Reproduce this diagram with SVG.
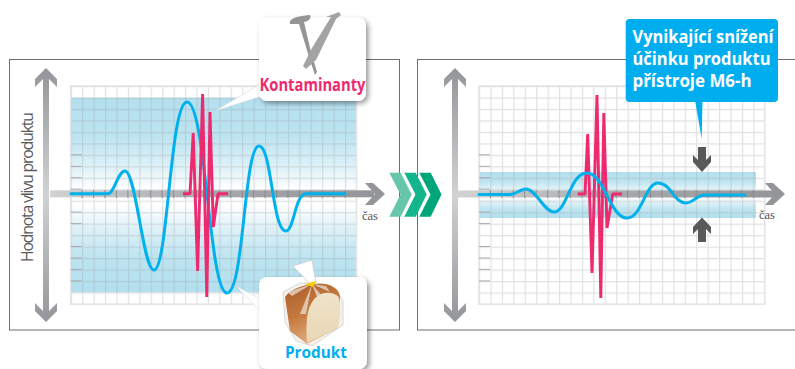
<svg xmlns="http://www.w3.org/2000/svg" width="795" height="369" viewBox="0 0 795 369">
<style>
.frame{fill:#fff;stroke:#6d6e70;stroke-width:1}
.wave{fill:none;stroke:#00b1ec;stroke-width:3;stroke-linecap:round;stroke-linejoin:round}
.spike{fill:none;stroke:#ee2a6f;stroke-width:2.9;stroke-linejoin:bevel}
.cas{font-family:"Liberation Serif",serif;font-size:12.5px;fill:#555}
.bold{font-family:"Open Sans","Noto Sans",sans-serif;font-weight:700}
</style>
<defs>
<pattern id="cells" patternUnits="userSpaceOnUse" width="11.43" height="11.47">
<path d="M.6 0V11.47M0 .6H11.43" fill="none" stroke="#9a9ea0" stroke-opacity=".3" stroke-width="1.2"/>
</pattern>
<linearGradient id="band" x1="0" y1="0" x2="0" y2="1">
<stop offset="0" stop-color="#b3dfee"/><stop offset=".2" stop-color="#bde4f1"/><stop offset=".36" stop-color="#dff2f8"/><stop offset=".47" stop-color="#fff"/><stop offset=".55" stop-color="#fff"/><stop offset=".68" stop-color="#dcf0f7"/><stop offset=".82" stop-color="#bde4f1"/><stop offset="1" stop-color="#b3dfee"/>
</linearGradient>
<linearGradient id="vaxis" gradientUnits="userSpaceOnUse" x1="0" y1="68" x2="0" y2="322">
<stop offset="0" stop-color="#939598"/><stop offset=".5" stop-color="#d1d2d4"/><stop offset="1" stop-color="#939598"/>
</linearGradient>
<linearGradient id="haxis" x1="0" y1="0" x2="1" y2="0">
<stop offset="0" stop-color="#d1d2d4"/><stop offset=".5" stop-color="#a7a9ac"/><stop offset="1" stop-color="#939598"/>
</linearGradient>
<linearGradient id="crust" x1="0" y1="0" x2="0.4" y2="1">
<stop offset="0" stop-color="#a95c28"/><stop offset=".55" stop-color="#c67a40"/><stop offset="1" stop-color="#e0b083"/>
</linearGradient>
<linearGradient id="face" x1="0" y1="0" x2="0" y2="1">
<stop offset="0" stop-color="#f0e3c9"/><stop offset="1" stop-color="#e9d7b4"/>
</linearGradient>
<filter id="shadow" x="-15%" y="-15%" width="135%" height="135%">
<feDropShadow dx="2.5" dy="2.5" stdDeviation="2.5" flood-color="#000" flood-opacity=".4"/>
</filter>
<filter id="soft"><feGaussianBlur stdDeviation=".6"/></filter>
<g id="grid">
<rect width="285.8" height="218.2" fill="url(#cells)"/>
<rect width="285.8" height="218.2" fill="none" stroke="#e3e4e5" stroke-width="1.6"/>
<path d="M0 68.8H11M0 80.3H11M0 91.7H11M0 103.2H11M0 126.1H11M0 137.6H11M0 160.5H11M0 172H11M0 183.4H11M0 194.9H11" fill="none" stroke="#a9abae" stroke-width="1"/>
</g>
<g id="ticks"><path d="M11.4 190V198M22.9 190V198M34.3 190V198M45.7 190V198M57.2 190V198M68.6 190V198M80 190V198M91.4 190V198M102.9 190V198M114.3 190V198M125.7 190V198M137.2 190V198M148.6 190V198M160 190V198M171.5 190V198M182.9 190V198M194.3 190V198M205.8 190V198M217.2 190V198M228.6 190V198M240 190V198M251.5 190V198M262.9 190V198M274.3 190V198" fill="none" stroke="#8a8c8f" stroke-width="1"/></g>
</defs>

<g id="panel-before">
<rect class="frame" x="9.5" y="59.5" width="390" height="270.5"/>
<rect x="70.7" y="97.7" width="285.8" height="194.6" fill="url(#band)"/>
<use href="#grid" x="70.7" y="86"/>
<rect x="50" y="190.3" width="324" height="7" fill="url(#haxis)"/>
<use href="#ticks" x="70.7" y="0"/>
<path d="M365 183H373L385 194L373 205H365L375 194Z" fill="#939598"/>
<path d="M46 68L57 79V87L49 79V311L57 303V311L46 322L35 311V303L43 311V79L35 87V79Z" fill="url(#vaxis)"/>
<text x="33" y="262" transform="rotate(-90 33 262)" font-family="'Open Sans','Noto Sans',sans-serif" font-size="15.8" fill="#58595b" textLength="150">Hodnota vlivu produktu</text>
<text class="cas" x="362" y="220">čas</text>
<path class="wave" d="M71 193.7H108C114 193.7 118 171 125 171C136 171 143 270 154 270C168 270 170 102 187 102C206 102 209 293 227 293C244 293 244 146 259 146C272 146 272 231 286 231C294 231 295 193.7 306 193.7H345"/>
<polyline class="spike" points="183,193.7 190,193.7 193.2,133 197.6,271 202.6,94 206.8,297 210,112 213.3,227 218,193.7 228,193.7"/>
</g>

<g id="panel-after">
<rect class="frame" x="417.5" y="59.5" width="400" height="270.5"/>
<rect x="479" y="172" width="277" height="46" fill="url(#band)"/>
<use href="#grid" x="479" y="86"/>
<rect x="458" y="190.5" width="319" height="7" fill="url(#haxis)"/>
<use href="#ticks" x="479" y="0"/>
<path d="M765 183H773L785 194L773 205H765L775 194Z" fill="#939598"/>
<path d="M455 68L466 79V87L458 79V311L466 303V311L455 322L444 311V303L452 311V79L444 87V79Z" fill="url(#vaxis)"/>
<text class="cas" x="759" y="219">čas</text>
<polyline class="spike" points="577.7,194 585,194 587.7,134 592,273 597,95 600.8,298 603.8,113 607,228 612.7,194 622,194"/>
<path class="wave" d="M479 194.5H510C516 194.5 520 189 526 189C536 189 544 212 554 212C567 212 570 173 587 173C604 173 610 218 627 218C642 218 645 183 658 183C671 183 674 203 686 203C694 203 696 195 705 195H745"/>
<path d="M698 147H706V160L711 155V162L702 172L693 162V155L698 160Z" fill="#58595b"/>
<path d="M698 242H706V229L711 234V227L702 217.5L693 227V234L698 229Z" fill="#58595b"/>
</g>

<g id="chevrons">
<path d="M389.3 172.7H400.7L411.7 194.5L400.7 216.7H389.3L400.5 194.5Z" fill="#66c6a9"/>
<path d="M404.3 172.7H415.7L426.7 194.5L415.7 216.7H404.3L415.5 194.5Z" fill="#12b58c"/>
<path d="M419.3 172.7H430.7L441.5 194.5L430.7 216.7H419.3L430.5 194.5Z" fill="#00a67a"/>
</g>

<g id="connectors">
<path d="M215 111L262 83V96Z" fill="#fff" stroke="#d4d4d4" stroke-width=".5"/>
<path d="M236 286L262 300V313Z" fill="#fff" stroke="#d4d4d4" stroke-width=".5"/>
<path d="M695 100H702.5L701.7 139Z" fill="#00aeef"/>
</g>

<g id="node-kontaminanty">
<rect x="259" y="17.5" width="107" height="83.5" rx="8" fill="#fff" filter="url(#shadow)"/>
<g filter="url(#soft)" fill="#949597">
<path d="M290 24C288 19 296 16 310 15C312 18 308 22 304 22L310 48L317 72L315 75L310 60L299 24Z"/>
<path d="M326 17L339 12L341 15L336 19L316 60L306 69L303 66L312 48L331 17Z" fill="#a2a3a5"/>
</g>
<text class="bold" x="259.5" y="91" font-size="17.5" fill="#ee2a6f" textLength="106" lengthAdjust="spacingAndGlyphs">Kontaminanty</text>
</g>

<g id="node-produkt">
<rect x="259" y="277" width="108" height="92" rx="8" fill="#fff" filter="url(#shadow)"/>
<g filter="url(#soft)">
<path d="M283 292L300 283H318L333 288L343 300V325L312 346L296 341L285 322Z" fill="#f5f2ee" stroke="#cfcfcf" stroke-width=".8"/>
<path d="M285 297C292 287 310 283 325 284C333 285 339 290 340 296L338 328L307 344L290 331Z" fill="url(#crust)"/>
<path d="M312 302C318 292 330 290 338 296C342 305 340 320 338 328L307 343C306 325 306 312 312 302Z" fill="url(#face)"/>
<path d="M312 284L287 292L292 296ZM312 284L300 314L306 314ZM312 284L318 300L323 297ZM312 284L330 292L326 286Z" fill="#eadfd3" fill-opacity=".75"/>
</g>
<path d="M293 266L312 260L316 283L311 285Z" fill="#fff" stroke="#c8c8c8" stroke-width=".7"/>
<path d="M305 284L316 281L313 287Z" fill="#f4d000"/>
<text class="bold" x="285" y="358" font-size="16.5" fill="#00aeef" textLength="62" lengthAdjust="spacingAndGlyphs">Produkt</text>
</g>

<g id="node-callout">
<rect x="625.7" y="19" width="152.3" height="83" rx="4" fill="#00aeef"/>
<text class="bold" font-size="18" fill="#fff"><tspan x="632.5" y="43" textLength="141" lengthAdjust="spacingAndGlyphs">Vynikající snížení</tspan><tspan x="632.5" y="65" textLength="138" lengthAdjust="spacingAndGlyphs">účinku produktu</tspan><tspan x="632.5" y="87" textLength="119" lengthAdjust="spacingAndGlyphs">přístroje M6-h</tspan></text>
</g>
</svg>
